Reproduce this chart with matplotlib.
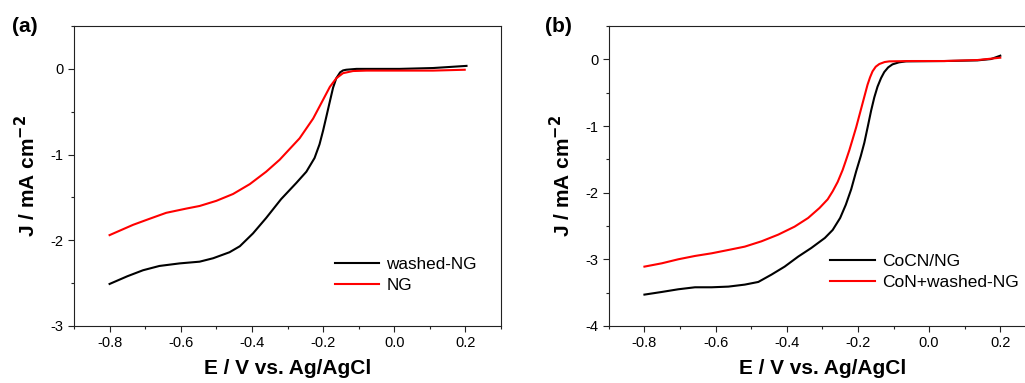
import matplotlib
matplotlib.use('Agg')
import matplotlib.pyplot as plt
from matplotlib.ticker import MultipleLocator

plt.rcParams['font.family'] = ['Liberation Sans', 'DejaVu Sans']

# Panel (a)
E_a_washed = [-0.8, -0.75, -0.706, -0.66, -0.603, -0.547, -0.509, -0.463, -0.434, -0.397,
              -0.36, -0.318, -0.275, -0.247, -0.224, -0.21, -0.2, -0.191, -0.181, -0.172,
              -0.163, -0.152, -0.144, -0.135, -0.106, 0.015, 0.109, 0.203]
J_a_washed = [-2.51, -2.42, -2.35, -2.30, -2.27, -2.25, -2.21, -2.14, -2.07, -1.92,
              -1.74, -1.52, -1.33, -1.20, -1.04, -0.88, -0.72, -0.56, -0.38, -0.22,
              -0.11, -0.04, -0.018, -0.01, 0.0, 0.0, 0.01, 0.035]
E_a_ng = [-0.8, -0.734, -0.688, -0.641, -0.584, -0.547, -0.5, -0.453, -0.406, -0.36,
          -0.322, -0.266, -0.228, -0.2, -0.181, -0.163, -0.144, -0.116, -0.078, 0.015,
          0.109, 0.198]
J_a_ng = [-1.94, -1.82, -1.75, -1.68, -1.63, -1.60, -1.54, -1.46, -1.345, -1.20,
          -1.06, -0.81, -0.58, -0.36, -0.21, -0.11, -0.05, -0.025, -0.02, -0.02,
          -0.02, -0.01]

# Panel (b)
E_b_cocn = [-0.8, -0.751, -0.705, -0.658, -0.611, -0.564, -0.518, -0.48, -0.443, -0.406,
            -0.368, -0.331, -0.293, -0.271, -0.25, -0.234, -0.219, -0.205, -0.192, -0.182,
            -0.172, -0.163, -0.154, -0.145, -0.135, -0.126, -0.115, -0.103, -0.085, -0.065,
            0.043, 0.136, 0.174, 0.2]
J_b_cocn = [-3.53, -3.49, -3.45, -3.42, -3.42, -3.41, -3.38, -3.34, -3.23, -3.11,
            -2.96, -2.83, -2.68, -2.56, -2.38, -2.18, -1.95, -1.68, -1.45, -1.25,
            -1.0, -0.77, -0.57, -0.41, -0.28, -0.19, -0.12, -0.075, -0.045, -0.03,
            -0.025, -0.015, 0.005, 0.055]
E_b_con = [-0.8, -0.751, -0.705, -0.658, -0.611, -0.564, -0.518, -0.471, -0.424, -0.378,
           -0.34, -0.308, -0.285, -0.271, -0.257, -0.243, -0.234, -0.224, -0.215, -0.205,
           -0.196, -0.187, -0.18, -0.173, -0.166, -0.159, -0.15, -0.14, -0.125, -0.112,
           -0.05, 0.043, 0.136, 0.2]
J_b_con = [-3.11, -3.06, -3.00, -2.95, -2.91, -2.86, -2.81, -2.73, -2.63, -2.51,
           -2.38, -2.23, -2.10, -1.98, -1.84, -1.66, -1.52, -1.36, -1.20, -1.02,
           -0.84, -0.66, -0.52, -0.38, -0.27, -0.18, -0.11, -0.07, -0.04, -0.03,
           -0.025, -0.025, -0.01, 0.025]

fig = plt.figure(figsize=(10.25, 3.83), dpi=100)
ax1 = fig.add_axes([0.0722, 0.149, 0.4166, 0.783])
ax2 = fig.add_axes([0.594, 0.149, 0.4166, 0.783])


def style(ax, ylim, yminor):
    ax.set_xlim(-0.9, 0.3)
    ax.set_ylim(*ylim)
    ax.xaxis.set_major_locator(MultipleLocator(0.2))
    ax.xaxis.set_minor_locator(MultipleLocator(0.1))
    ax.yaxis.set_major_locator(MultipleLocator(1))
    ax.yaxis.set_minor_locator(MultipleLocator(yminor))
    ax.xaxis.set_major_formatter(plt.FuncFormatter(lambda v, p: f'{v:.1f}'))
    ax.yaxis.set_major_formatter(plt.FuncFormatter(lambda v, p: f'{v:.0f}'))
    ax.tick_params(which='both', direction='out', top=False, right=False,
                   labelsize=10.5, width=0.8, color='#222222')
    ax.tick_params(which='major', length=4)
    ax.tick_params(which='minor', length=2.5)
    for s in ax.spines.values():
        s.set_linewidth(0.8)
        s.set_color('#222222')
    ax.set_xlabel('E / V vs. Ag/AgCl', fontsize=15, fontweight='bold', labelpad=6)
    ax.set_ylabel(r'J / mA cm$^{\mathbf{-2}}$', fontsize=15, fontweight='bold', labelpad=8)


ax1.plot(E_a_washed, J_a_washed, color='black', lw=1.5, label='washed-NG')
ax1.plot(E_a_ng, J_a_ng, color='red', lw=1.5, label='NG')
style(ax1, (-3, 0.5), 0.5)
ax1.legend(loc='lower left', bbox_to_anchor=(0.575, 0.06), frameon=False, fontsize=12.3,
           handlelength=2.6, handletextpad=0.4, labelspacing=0.35)

ax2.plot(E_b_cocn, J_b_cocn, color='black', lw=1.5, label='CoCN/NG')
ax2.plot(E_b_con, J_b_con, color='red', lw=1.5, label='CoN+washed-NG')
style(ax2, (-4, 0.5), 0.5)
ax2.legend(loc='lower left', bbox_to_anchor=(0.481, 0.068), frameon=False, fontsize=12.5,
           handlelength=2.6, handletextpad=0.4, labelspacing=0.35)

fig.text(0.012, 0.93, '(a)', fontsize=15, fontweight='bold', va='center')
fig.text(0.532, 0.93, '(b)', fontsize=15, fontweight='bold', va='center')

fig.savefig('out.png', dpi=100)
